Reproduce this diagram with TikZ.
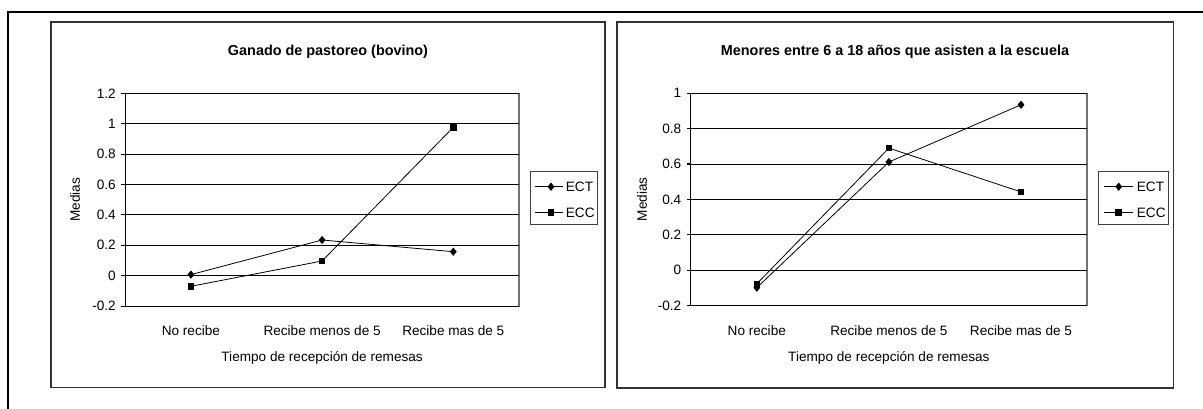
\documentclass[tikz,border=0pt]{standalone}
\usepackage{fontspec}
\setmainfont{Liberation Sans}
\usetikzlibrary{shapes.geometric}
\begin{document}
\begin{tikzpicture}[x=1pt,y=-1pt,
  outerframe/.style={line width=2pt, black},
  chartbox/.style={draw=black!80, line width=1.3pt},
  plotarea/.style={draw=black!55, line width=1.2pt},
  gridline/.style={black, line width=0.9pt},
  axisline/.style={black, line width=1.1pt},
  seriesline/.style={black, line width=0.8pt},
  dmark/.style={shape=diamond, fill=black, inner sep=0pt, minimum width=7pt, minimum height=8.5pt},
  smark/.style={shape=rectangle, fill=black, inner sep=0pt, minimum size=6.5pt},
  ticklbl/.style={anchor=east, inner sep=0pt, font=\fontsize{13.6}{15}\selectfont},
  lbl/.style={inner sep=0pt, font=\fontsize{13.6}{15}\selectfont},
  ttl/.style={inner sep=0pt, font=\bfseries\fontsize{14.4}{16}\selectfont},
  legbox/.style={draw=black!75, line width=1pt},
  legtxt/.style={anchor=west, inner sep=0pt, font=\fontsize{13.6}{15}\selectfont}]
\useasboundingbox (0,0) rectangle (1203,409);
\fill[white] (0,0) rectangle (1203,409);
% outer frame
\draw[outerframe] (7.5,409) -- (7.5,12) -- (1203,12);

% ================= LEFT CHART =================
\draw[chartbox] (51,22) rectangle (605,387.5);
\node[ttl] (ltitle) at (328,52) {Ganado de pastoreo (bovino)};
\draw[plotarea] (125.3,93.3) rectangle (519,306.1);
\foreach \yy in {93.3,123.7,154.1,184.5,214.9,245.3,275.7}
  \draw[gridline] (125.3,\yy) -- (519,\yy);
\draw[axisline] (125.3,93.3) -- (125.3,306.1) -- (519,306.1);
\foreach \yy/\t [count=\i] in {93.3/1.2,123.7/1,154.1/0.8,184.5/0.6,214.9/0.4,245.3/0.2,275.7/0,306.1/-0.2}{
  \draw[axisline] (121,\yy) -- (125.3,\yy);
  \node[ticklbl] (lt\i) at (116,\yy) {\t};
}
\node[lbl, rotate=90] (lylab) at (75,199.7) {Medias};
\node[lbl] (lc1) at (190.9,331) {No recibe};
\node[lbl] (lc2) at (322.1,331) {Recibe menos de 5};
\node[lbl] (lc3) at (453.3,331) {Recibe mas de 5};
\node[lbl] (lxlab) at (322.1,358) {Tiempo de recepción de remesas};
% data
\node[dmark] (lt1m) at (190.9,274.6) {};
\node[dmark] (lt2m) at (322.1,240.0) {};
\node[dmark] (lt3m) at (453.3,251.7) {};
\node[smark] (lc1m) at (190.9,286.3) {};
\node[smark] (lc2m) at (322.1,261.0) {};
\node[smark] (lc3m) at (453.3,127.3) {};
\draw[seriesline] (lt1m.center) -- (lt2m.center) -- (lt3m.center);
\draw[seriesline] (lc1m.center) -- (lc2m.center) -- (lc3m.center);
% legend
\draw[legbox] (530.7,172) rectangle (597.3,224.3);
\coordinate (lla) at (535,186.7); \coordinate (llb) at (562.7,186.7);
\coordinate (llc) at (535,212.5); \coordinate (lld) at (562.7,212.5);
\draw[seriesline] (lla) -- (llb);
\draw[seriesline] (llc) -- (lld);
\node[dmark] (llm1) at (551,186.7) {};
\node[smark] (llm2) at (551,212.5) {};
\node[legtxt] (llt1) at (565.7,186.7) {ECT};
\node[legtxt] (llt2) at (565.7,212.5) {ECC};

% ================= RIGHT CHART =================
\draw[chartbox] (617,22) rectangle (1173.3,388);
\node[ttl] (rtitle) at (895,52) {Menores entre 6 a 18 años que asisten a la escuela};
\draw[plotarea] (690.7,93.3) rectangle (1087,305.4);
\foreach \yy in {93.3,128.65,164.0,199.35,234.7,270.05}
  \draw[gridline] (690.7,\yy) -- (1087,\yy);
\draw[axisline] (690.7,93.3) -- (690.7,305.4) -- (1087,305.4);
\foreach \yy/\t [count=\i] in {93.3/1,128.65/0.8,164.0/0.6,199.35/0.4,234.7/0.2,270.05/0,305.4/-0.2}{
  \draw[axisline] (686.7,\yy) -- (690.7,\yy);
  \node[ticklbl] (rt\i) at (681.5,\yy) {\t};
}
\node[lbl, rotate=90] (rylab) at (642,199.3) {Medias};
\node[lbl] (rc1) at (756.8,331) {No recibe};
\node[lbl] (rc2) at (888.9,331) {Recibe menos de 5};
\node[lbl] (rc3) at (1021,331) {Recibe mas de 5};
\node[lbl] (rxlab) at (888.9,358) {Tiempo de recepción de remesas};
% data
\node[dmark] (rt1m) at (756.8,287.7) {};
\node[dmark] (rt2m) at (888.9,162.0) {};
\node[dmark] (rt3m) at (1021,104.8) {};
\node[smark] (rc1m) at (756.8,283.8) {};
\node[smark] (rc2m) at (888.9,148.1) {};
\node[smark] (rc3m) at (1021,191.9) {};
\draw[seriesline] (rt1m.center) -- (rt2m.center) -- (rt3m.center);
\draw[seriesline] (rc1m.center) -- (rc2m.center) -- (rc3m.center);
% legend
\draw[legbox] (1098.7,172) rectangle (1168.7,224.3);
\coordinate (rla) at (1104,186.7); \coordinate (rlb) at (1132.7,186.7);
\coordinate (rlc) at (1104,212.5); \coordinate (rld) at (1132.7,212.5);
\draw[seriesline] (rla) -- (rlb);
\draw[seriesline] (rlc) -- (rld);
\node[dmark] (rlm1) at (1118.7,186.7) {};
\node[smark] (rlm2) at (1118.7,212.5) {};
\node[legtxt] (rlt1) at (1136.7,186.7) {ECT};
\node[legtxt] (rlt2) at (1136.7,212.5) {ECC};
\end{tikzpicture}
\end{document}
